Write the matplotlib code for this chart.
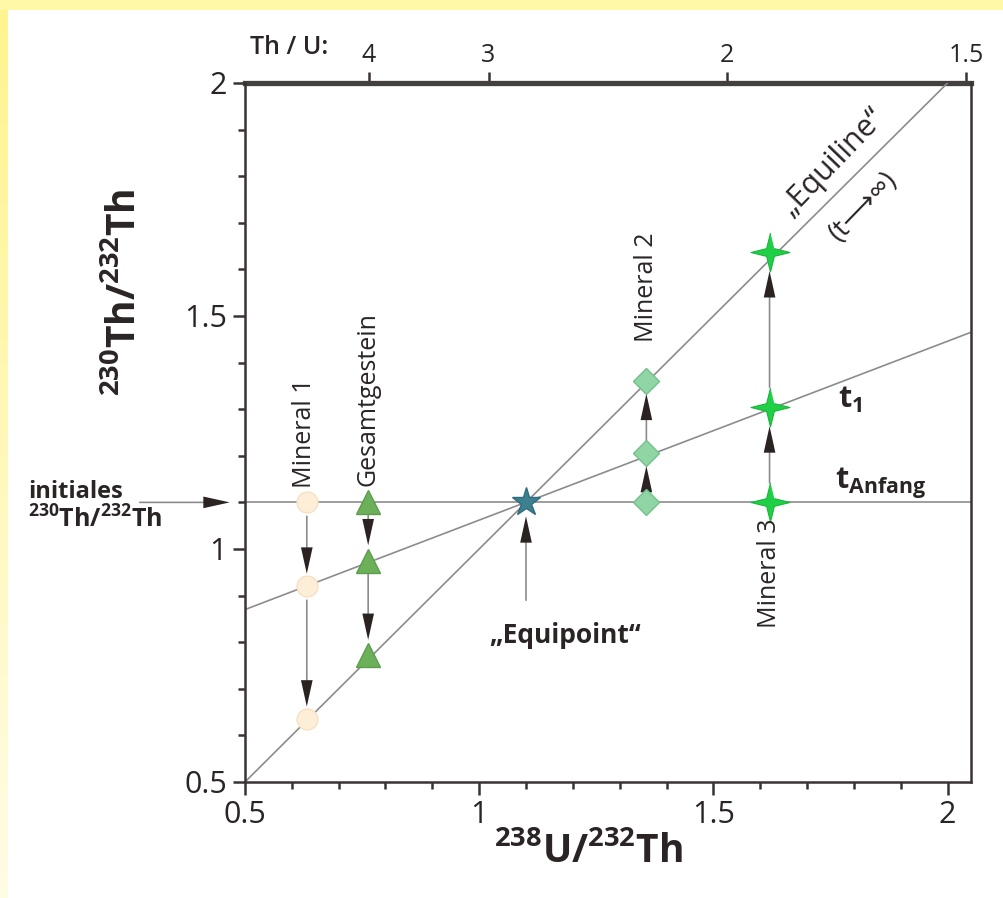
import numpy as np
import matplotlib
matplotlib.use("Agg")
import matplotlib.pyplot as plt
from matplotlib.patches import Rectangle
from matplotlib.ticker import MultipleLocator, NullLocator, FormatStrFormatter
from matplotlib.colors import LinearSegmentedColormap

plt.rcParams['font.family'] = ['Open Sans', 'DejaVu Sans']
plt.rcParams['mathtext.fontset'] = 'custom'
plt.rcParams['mathtext.rm'] = 'Open Sans'
plt.rcParams['mathtext.bf'] = 'Open Sans:bold'
plt.rcParams['mathtext.it'] = 'Open Sans:italic'

# Werte
proben = ['Mineral 1', 'Gesamtgestein', 'Mineral 2', 'Mineral 3']
u_th = [0.632, 0.763, 1.357, 1.62]            # 238U/232Th
th_anfang = [1.1, 1.1, 1.1, 1.1]              # 230Th/232Th bei t = Anfang
th_t1 = [0.92, 0.975, 1.205, 1.305]           # 230Th/232Th bei t1
th_equi = [0.635, 0.772, 1.36, 1.638]         # 230Th/232Th auf der Equiline

equipoint = (1.1, 1.1)
equiline_x = [0.5, 2.0]
equiline_y = [0.5, 2.0]
t1_x = [0.5, 2.05]
t1_y = [0.87, 1.465]
anfang_x = [0.5, 2.05]
anfang_y = [1.1, 1.1]

# obere Achse: Th/U
thu_ticks = [4, 3, 2, 1.5]
k_thu = 3.06

grau = '#8c8c8c'
dunkel = '#2b2222'
achse = '#3b3333'
txt = '#2b2424'
kopf = '-|>,head_length=1.9,head_width=0.42'

fig = plt.figure(figsize=(10.04, 8.98), dpi=100, facecolor='#fff8a6')
fig.patches.append(Rectangle((8 / 1004, 0), 1, 1 - 10 / 898, transform=fig.transFigure,
                             facecolor='white', edgecolor='none', zorder=-10))
# gelber Rand links mit Verlauf
gax = fig.add_axes([0, 0, 8 / 1004, 1 - 10 / 898], zorder=-5)
cmap = LinearSegmentedColormap.from_list('gelb', ['#fff48f', '#fffce6'])
gax.imshow(np.linspace(0, 1, 100).reshape(-1, 1), aspect='auto', cmap=cmap)
gax.axis('off')

ax = fig.add_axes([0.244, 0.1292, 0.7231, 0.7784])
ax.set_xlim(0.5, 2.05)
ax.set_ylim(0.5, 2.0)

# Linien
ax.plot(anfang_x, anfang_y, color=grau, lw=1.2, zorder=1)
ax.plot(equiline_x, equiline_y, color=grau, lw=1.2, zorder=1)
ax.plot(t1_x, t1_y, color=grau, lw=1.2, zorder=1)


def pfeil(x0, y0, x1, y1, sa, sb, **kw):
    # grauer Schaft, dunkle Spitze
    ax.annotate('', xy=(x1, y1), xytext=(x0, y0),
                arrowprops=dict(arrowstyle='-', color=grau, lw=1.2,
                                shrinkA=sa, shrinkB=sb + 8), zorder=2, **kw)
    ax.annotate('', xy=(x1, y1), xytext=(x0, y0),
                arrowprops=dict(arrowstyle=kopf, fc=dunkel, ec='none', lw=0,
                                shrinkA=sa, shrinkB=sb), zorder=2, **kw)


# Pfeile Mineral 1 (nach unten)
pfeil(u_th[0], th_anfang[0], u_th[0], th_t1[0], 10, 9)
pfeil(u_th[0], th_t1[0], u_th[0], th_equi[0], 10, 9)
# Gesamtgestein
pfeil(u_th[1], th_anfang[1], u_th[1], th_t1[1], 9, 11)
pfeil(u_th[1], th_t1[1], u_th[1], th_equi[1], 10, 11)
# Mineral 2 (nach oben)
pfeil(u_th[2], th_anfang[2], u_th[2], th_t1[2], 8, 9)
pfeil(u_th[2], th_t1[2], u_th[2], th_equi[2], 9, 9)
# Mineral 3
pfeil(u_th[3], th_anfang[3], u_th[3], th_t1[3], 14, 14)
pfeil(u_th[3], th_t1[3], u_th[3], th_equi[3], 14, 14)
# Equipoint
pfeil(equipoint[0], 0.89, equipoint[0], equipoint[1], 0, 10)

# Symbole
ax.plot([u_th[0]] * 3, [th_anfang[0], th_t1[0], th_equi[0]], 'o', ms=15,
        mfc='#fdeed8', mec='#f7e0c4', mew=1, ls='none', zorder=3)
ax.plot([u_th[1]] * 3, [th_anfang[1], th_t1[1], th_equi[1]], '^', ms=17,
        mfc='#6cb05a', mec='#5d9e4d', mew=1, ls='none', zorder=3)
ax.plot([u_th[2]] * 3, [th_anfang[2], th_t1[2], th_equi[2]], 'D', ms=13,
        mfc='#8fd6a4', mec='#74c08b', mew=1, ls='none', zorder=3)
stern4 = []
for i in range(8):
    w = np.pi / 2 + i * np.pi / 4
    r = 1.0 if i % 2 == 0 else 0.28
    stern4.append((r * np.cos(w), r * np.sin(w)))
ax.plot([u_th[3]] * 3, [th_anfang[3], th_t1[3], th_equi[3]], marker=stern4, ms=28,
        mfc='#1fcf45', mec='#19b53b', mew=0.8, ls='none', zorder=3)
ax.plot(*equipoint, '*', ms=21, mfc='#3d8092', mec='#2f6c7d', mew=1, zorder=3)

# Beschriftungen im Diagramm
ax.text(u_th[0] - 0.005, 1.13, proben[0], rotation=90, ha='center', va='bottom', fontsize=18, color=txt)
ax.text(u_th[1], 1.135, proben[1], rotation=90, ha='center', va='bottom', fontsize=18, color=txt)
ax.text(u_th[2], 1.445, proben[2], rotation=90, ha='center', va='bottom', fontsize=18, color=txt)
ax.text(u_th[3], 1.066, proben[3], rotation=90, ha='center', va='top', fontsize=18, color=txt)
ax.text(1.184, 0.815, '„Equipoint“', ha='center', va='center', fontsize=19,
        fontweight='bold', color=txt)
ax.text(1.793, 1.32, r'$\mathbf{t_1}$', ha='center', va='center', fontsize=22, color=txt)
ax.text(1.857, 1.14, r'$\mathbf{t_{Anfang}}$', ha='center', va='center', fontsize=22, color=txt)
ax.text(1.755, 1.83, '„Equiline“', rotation=46, ha='center', va='center',
        rotation_mode='anchor', fontsize=22, color=txt)
ax.text(1.82, 1.735, '(t⟶∞)', rotation=46, ha='center', va='center',
        rotation_mode='anchor', fontsize=20, color=txt)

# Achsen
ax.xaxis.set_major_locator(MultipleLocator(0.5))
ax.xaxis.set_minor_locator(MultipleLocator(0.1))
ax.yaxis.set_major_locator(MultipleLocator(0.5))
ax.yaxis.set_minor_locator(MultipleLocator(0.1))
ax.xaxis.set_major_formatter(FormatStrFormatter('%g'))
ax.yaxis.set_major_formatter(FormatStrFormatter('%g'))
ax.tick_params(which='both', direction='out', width=1.8, color=achse, labelcolor=txt,
               top=False, right=False)
ax.tick_params(which='major', length=9, labelsize=22, pad=4)
ax.tick_params(which='minor', length=5)
for s in ['left', 'bottom', 'right']:
    ax.spines[s].set_linewidth(1.8)
    ax.spines[s].set_color(achse)
ax.spines['top'].set_visible(False)


def thu(x):
    x = np.asarray(x, dtype=float)
    with np.errstate(divide='ignore'):
        return k_thu / x


sec = ax.secondary_xaxis('top', functions=(thu, thu))
sec.set_xticks(thu_ticks)
sec.set_xticklabels([f'{v:g}' for v in thu_ticks])
sec.xaxis.set_minor_locator(NullLocator())
sec.tick_params(direction='out', length=8, width=1.8, color=achse, labelsize=18,
                labelcolor=txt, pad=3)
sec.spines['top'].set_linewidth(3.8)
sec.spines['top'].set_color('#444040')

# Achsentitel
fig.text(588 / 1004, 1 - 852 / 898, r'$\mathbf{^{238}U/^{232}Th}$', ha='center', va='center',
         fontsize=28, color=txt)
fig.text(125 / 1004, 1 - 292 / 898, r'$\mathbf{^{230}Th/^{232}Th}$', ha='center', va='center',
         rotation=90, fontsize=28, color=txt)
fig.text(250 / 1004, 1 - 47 / 898, 'Th / U:', ha='left', va='center', fontsize=18,
         fontweight='semibold', color=txt)

# initiales Verhältnis
fig.text(28 / 1004, 1 - 498 / 898, 'initiales', ha='left', va='baseline', fontsize=17,
         fontweight='bold', color=txt)
fig.text(28 / 1004, 1 - 528 / 898, r'$\mathbf{^{230}Th/^{232}Th}$', ha='left', va='baseline',
         fontsize=18, color=txt)
ytr = ax.get_yaxis_transform()
pfeil(-0.145, 1.1, -0.021, 1.1, 0, 0, xycoords=ytr, textcoords=ytr, annotation_clip=False)

fig.savefig('out.png', dpi=100, facecolor=fig.get_facecolor())
